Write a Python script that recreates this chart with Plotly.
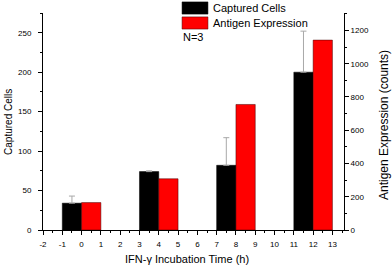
import plotly.graph_objects as go

times = [0, 4, 8, 12]
captured = [34, 74, 82, 200]
captured_err = [9, 1, 35, 52]
antigen = [165, 308, 755, 1142]

x_ticks = list(range(-2, 14))
font = "Liberation Sans, Arial, sans-serif"

fig = go.Figure()
fig.add_trace(go.Bar(
    x=times, y=captured, width=1, offset=-1, name="Captured Cells",
    marker=dict(color="black", line=dict(color="black", width=0.5)),
    error_y=dict(type="data", array=captured_err, arrayminus=[0]*4, symmetric=False,
                 color="#a8a8a8", thickness=1, width=3),
    yaxis="y", showlegend=False,
))
fig.add_trace(go.Bar(
    x=times, y=antigen, width=1, offset=0, name="Antigen Expression",
    marker=dict(color="#ff0000", line=dict(color="#400000", width=0.5)),
    yaxis="y2", showlegend=False,
))

axis_common = dict(showline=True, linecolor="black", linewidth=1, ticks="outside",
                   ticklen=4, tickcolor="black", showgrid=False, zeroline=False,
                   automargin=False,
                   tickfont=dict(family=font, size=8, color="black"))

fig.update_layout(
    width=392, height=268,
    margin=dict(l=43, r=48, t=13, b=38),
    paper_bgcolor="white", plot_bgcolor="white",
    barmode="overlay",
    font=dict(family=font, color="black"),
    xaxis=dict(range=[-2, 13.6], tickvals=x_ticks, ticktext=[str(v) for v in x_ticks],
               minor=dict(ticks="outside", ticklen=2, dtick=0.5, tick0=0, tickcolor="black"),
               ticklabelstandoff=2,
               **axis_common),
    yaxis=dict(range=[0, 275], dtick=50,
               minor=dict(ticks="outside", ticklen=2, dtick=25, tickcolor="black"),
               ticklabelstandoff=5,
               **axis_common),
    yaxis2=dict(range=[0, 1305], dtick=200, overlaying="y", side="right", anchor="x",
                minor=dict(ticks="outside", ticklen=2, dtick=100, tickcolor="black"),
                **axis_common),
)

# axis titles
fig.add_annotation(xref="paper", yref="paper", x=0.48, y=-0.134, text="IFN-γ Incubation Time (h)",
                   showarrow=False, xanchor="center", yanchor="middle", font=dict(size=11))
fig.add_annotation(xref="paper", yref="paper", x=-0.113, y=0.498, text="Captured Cells",
                   showarrow=False, xanchor="center", yanchor="middle", textangle=-90,
                   font=dict(size=10))
fig.add_annotation(xref="paper", yref="paper", x=1.133, y=0.484, text="Antigen Expression (counts)",
                   showarrow=False, xanchor="center", yanchor="middle", textangle=-90,
                   font=dict(size=12))

# legend drawn manually
fig.add_shape(type="rect", xref="paper", yref="paper", x0=0.462, x1=0.548, y0=0.995, y1=1.051,
              fillcolor="black", line=dict(color="black", width=0.5))
fig.add_shape(type="rect", xref="paper", yref="paper", x0=0.462, x1=0.548, y0=0.926, y1=0.982,
              fillcolor="#ff0000", line=dict(color="#400000", width=0.5))
fig.add_annotation(xref="paper", yref="paper", x=0.558, y=1.023, text="Captured Cells",
                   showarrow=False, xanchor="left", yanchor="middle", font=dict(size=11))
fig.add_annotation(xref="paper", yref="paper", x=0.558, y=0.954, text="Antigen Expression",
                   showarrow=False, xanchor="left", yanchor="middle", font=dict(size=11))
fig.add_annotation(xref="paper", yref="paper", x=0.459, y=0.889, text="N=3",
                   showarrow=False, xanchor="left", yanchor="middle", font=dict(size=11))

fig.write_html("out.html", config={"displayModeBar": False},
               post_script="document.body.style.margin='0';")
